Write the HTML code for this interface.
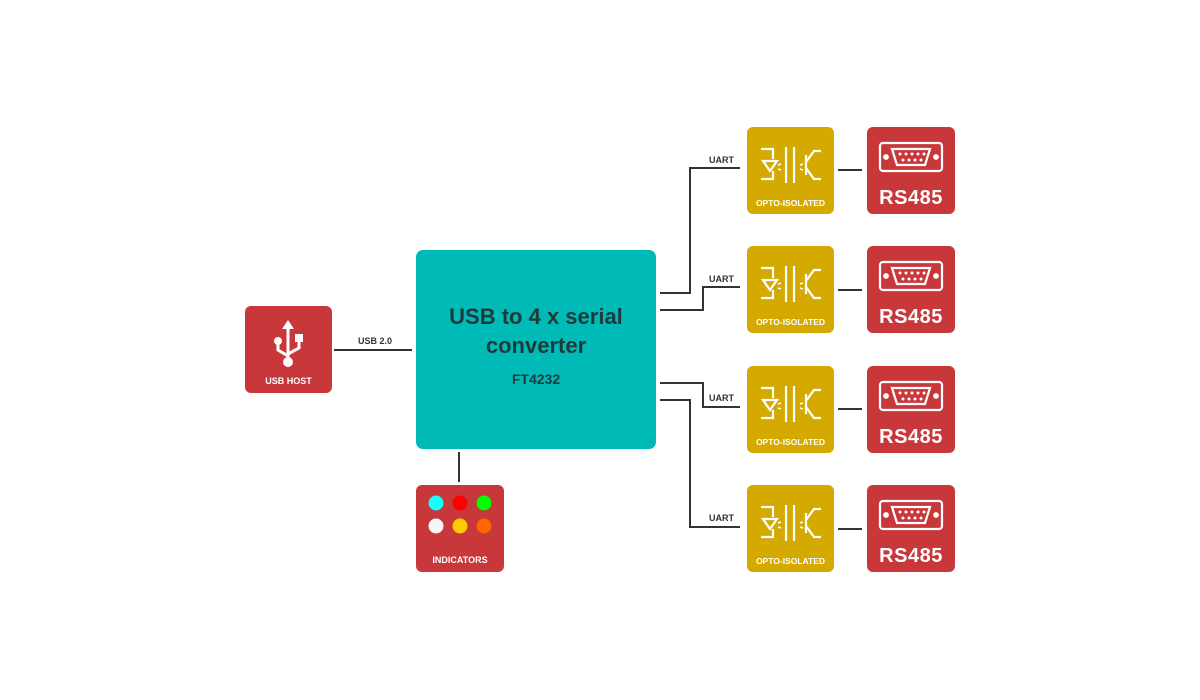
<!DOCTYPE html>
<html><head><meta charset="utf-8"><style>
body{margin:0;width:1200px;height:700px;background:#fff;position:relative;font-family:"Liberation Sans",sans-serif;overflow:hidden}
.b{position:absolute;border-radius:6px}
.red{background:#c8373a}.opto{background:#d4aa00}
.t{position:absolute;color:#fff;font-weight:bold;text-align:center;width:100%}
.lab{position:absolute;font-size:9px;font-weight:bold;color:#333}
</style></head><body>
<svg width="1200" height="700" style="position:absolute;left:0;top:0" fill="none" stroke="#333" stroke-width="2">
<line x1="334" y1="350" x2="412" y2="350"/>
<line x1="459" y1="452" x2="459" y2="482"/>
<polyline points="660,293 690,293 690,168 740,168"/>
<polyline points="660,310 703,310 703,287 740,287"/>
<polyline points="660,383 703,383 703,407 740,407"/>
<polyline points="660,400 690,400 690,527 740,527"/>
<line x1="838" y1="170" x2="862" y2="170"/>
<line x1="838" y1="290" x2="862" y2="290"/>
<line x1="838" y1="409" x2="862" y2="409"/>
<line x1="838" y1="529" x2="862" y2="529"/>
</svg>
<div class="lab" style="left:358px;top:336px">USB 2.0</div>
<div class="lab" style="left:709px;top:155px">UART</div>
<div class="lab" style="left:709px;top:274px">UART</div>
<div class="lab" style="left:709px;top:393px">UART</div>
<div class="lab" style="left:709px;top:513px">UART</div>

<div class="b red" style="left:245px;top:306px;width:87px;height:87px">
<svg width="87" height="87" style="position:absolute;left:0;top:0" fill="#fff" stroke="#fff">
<polygon points="43,14 37,23 49,23" stroke="none"/>
<line x1="43" y1="20" x2="43" y2="54" stroke-width="3"/>
<path d="M33,36 V44 L43,50 M54,34 V42 L43,48" stroke-width="3" fill="none"/>
<circle cx="33" cy="35" r="4" stroke="none"/>
<rect x="50" y="28" width="8" height="8" stroke="none"/>
<circle cx="43" cy="56" r="5" stroke="none"/>
</svg>
<div class="t" style="top:70px;font-size:9px">USB HOST</div></div>

<div class="b" style="left:416px;top:250px;width:240px;height:199px;background:#00bab8;border-radius:7px">
<div style="position:absolute;top:52px;width:100%;text-align:center;color:#1d3a3a;font-weight:bold;font-size:22px;line-height:29px">USB to 4 x serial<br>converter</div>
<div style="position:absolute;top:121px;width:100%;text-align:center;color:#1d3a3a;font-weight:bold;font-size:14px">FT4232</div></div>

<div class="b red" style="left:416px;top:485px;width:88px;height:87px">
<svg width="88" height="87" style="position:absolute;left:0;top:0">
<circle cx="20" cy="18" r="7.5" fill="#1ff"/><circle cx="44" cy="18" r="7.5" fill="#f00"/><circle cx="68" cy="18" r="7.5" fill="#0f0"/>
<circle cx="20" cy="41" r="7.5" fill="#f5f5f5"/><circle cx="44" cy="41" r="7.5" fill="#fc0"/><circle cx="68" cy="41" r="7.5" fill="#f60"/>
</svg>
<div class="t" style="top:70px;font-size:9px">INDICATORS</div></div>

<div id="rows"></div>
<script>
var ys=[127,246,366,485],h='';
ys.forEach(function(y){
h+='<div class="b opto" style="left:747px;top:'+y+'px;width:87px;height:87px"><svg width="87" height="87" style="position:absolute;left:0;top:0" fill="none" stroke="#fff" stroke-width="2.2">'+
'<path d="M14,22 H26 V32 M16,34 H30 L23,44 Z M14,52 H26 V44"/><path d="M31,38 l3,-1 M31,42 l3,1" stroke-width="1.5"/>'+
'<line x1="39" y1="20" x2="39" y2="56"/><line x1="47" y1="20" x2="47" y2="56"/>'+
'<path d="M53,38 l3,-1 M53,42 l3,1" stroke-width="1.5"/><line x1="59" y1="28" x2="59" y2="48"/><path d="M59,35 L67,24 H74 M59,41 L67,52 H74"/>'+
'</svg><div class="t" style="top:71px;font-size:8.5px">OPTO-ISOLATED</div></div>';
h+='<div class="b red" style="left:867px;top:'+y+'px;width:88px;height:87px"><svg width="88" height="87" style="position:absolute;left:0;top:0" fill="none" stroke="#fff" stroke-width="2.2">'+
'<rect x="13" y="16" width="62" height="28" rx="3"/><path d="M25,22 H63 L58,38 H30 Z"/>'+
'<circle cx="19" cy="30" r="1.8" fill="#fff"/><circle cx="69" cy="30" r="1.8" fill="#fff"/>'+
'<g fill="#fff" stroke="none"><circle cx="33" cy="27" r="1.5"/><circle cx="39" cy="27" r="1.5"/><circle cx="45" cy="27" r="1.5"/><circle cx="51" cy="27" r="1.5"/><circle cx="57" cy="27" r="1.5"/><circle cx="36" cy="33" r="1.5"/><circle cx="42" cy="33" r="1.5"/><circle cx="48" cy="33" r="1.5"/><circle cx="54" cy="33" r="1.5"/></g>'+
'</svg><div class="t" style="top:60px;font-size:20px;font-weight:900;letter-spacing:0.5px">RS485</div></div>';
});
document.getElementById('rows').innerHTML=h;
</script>
</body></html>
